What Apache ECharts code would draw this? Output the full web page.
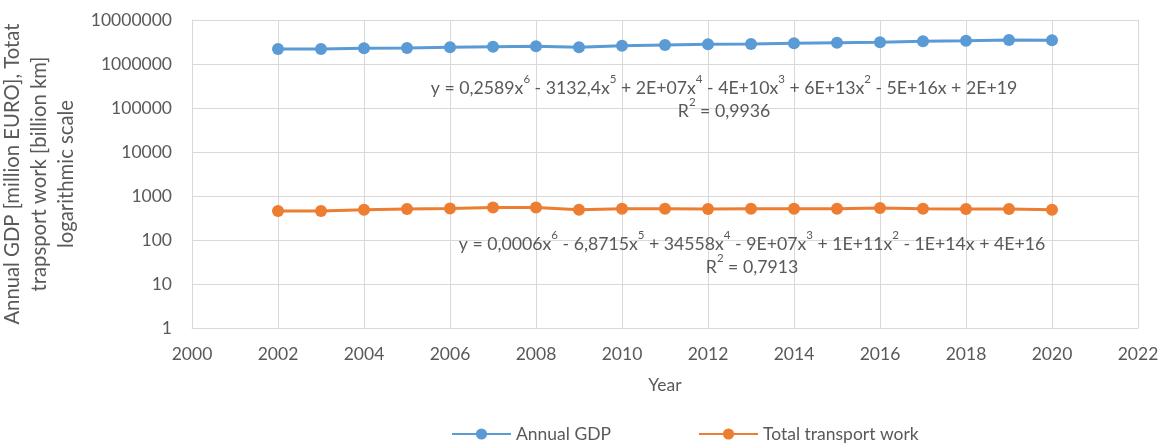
<!DOCTYPE html>
<html>
<head>
<meta charset="utf-8">
<script src="https://cdn.jsdelivr.net/npm/echarts@6/dist/echarts.min.js"></script>
<style>
html,body{margin:0;padding:0;background:#fff;}
#c{width:1165px;height:447px;}
</style>
</head>
<body>
<div id="c"></div>
<script>
const years = [2002,2003,2004,2005,2006,2007,2008,2009,2010,2011,2012,2013,2014,2015,2016,2017,2018,2019,2020];
const annualGDP = [2200000,2200000,2280000,2320000,2400000,2480000,2530000,2400000,2610000,2710000,2810000,2850000,2960000,3050000,3120000,3290000,3390000,3520000,3480000];
const transportWork = [455,458,486,504,520,548,548,486,512,512,504,512,512,512,531,512,508,508,486];
const yTicks = [1,10,100,1000,10000,100000,1000000,10000000];
const xTicks = [2000,2002,2004,2006,2008,2010,2012,2014,2016,2018,2020,2022];
const seriesNames = ['Annual GDP','Total transport work'];

const FONT = 'Lato';
const TXT = '#595959';
const GRID = '#d9d9d9';
const FS = 17.5;

const chart = echarts.init(document.getElementById('c'), null, {renderer:'canvas'});

function pairs(vals){ return years.map((y,i)=>[y, vals[i]]); }

const rich = {
  n: {fontFamily: FONT, fontSize: 17.7, color: TXT, lineHeight: 24, verticalAlign:'bottom'},
  s: {fontFamily: FONT, fontSize: 11.5, color: TXT, lineHeight: 24, verticalAlign:'top'}
};
function eq(parts){
  return parts.map(p => p[1] ? '{s|' + p[0] + '}' : '{n|' + p[0] + '}').join('');
}

const gdpEq = eq([['y = 0,2589x'],['6',1],[' - 3132,4x'],['5',1],[' + 2E+07x'],['4',1],[' - 4E+10x'],['3',1],[' + 6E+13x'],['2',1],[' - 5E+16x + 2E+19']]);
const gdpR2 = eq([['R'],['2',1],[' = 0,9936']]);
const trEq = eq([['y = 0,0006x'],['6',1],[' - 6,8715x'],['5',1],[' + 34558x'],['4',1],[' - 9E+07x'],['3',1],[' + 1E+11x'],['2',1],[' - 1E+14x + 4E+16']]);
const trR2 = eq([['R'],['2',1],[' = 0,7913']]);

function txt(str, cx, cy){
  return {
    type:'text', x: cx, y: cy, z: 10,
    style: {text: str, rich: rich, align:'center', verticalAlign:'middle', fill: TXT, font: '18px ' + FONT}
  };
}

chart.setOption({
  animation: false,
  backgroundColor: '#ffffff',
  textStyle: {fontFamily: FONT, color: TXT},
  grid: {left: 192, right: 27, top: 20, bottom: 119, containLabel: false, outerBoundsMode: 'none'},
  xAxis: {
    type: 'value', min: xTicks[0], max: xTicks[xTicks.length-1], interval: 2,
    name: 'Year', nameLocation: 'middle', nameGap: 48,
    nameTextStyle: {fontFamily: FONT, fontSize: FS, color: TXT},
    axisLine: {show: true, lineStyle: {color: GRID, width: 1}},
    axisTick: {show: false},
    splitLine: {show: true, lineStyle: {color: GRID, width: 1}},
    axisLabel: {fontFamily: FONT, fontSize: FS, color: TXT, margin: 17, formatter: v => String(v)}
  },
  yAxis: {
    type: 'log', logBase: 10, min: yTicks[0], max: yTicks[yTicks.length-1],
    name: 'Annual GDP [million EURO], Totat\ntrapsport work [billion km]\nlogarithmic scale',
    nameLocation: 'middle', nameRotate: 90, nameGap: 102,
    nameTextStyle: {fontFamily: FONT, fontSize: 20.3, color: TXT, lineHeight: 27, align: 'center'},
    axisLine: {show: true, lineStyle: {color: GRID, width: 1}},
    axisTick: {show: false},
    splitLine: {show: true, lineStyle: {color: GRID, width: 1}},
    axisLabel: {fontFamily: FONT, fontSize: FS, color: TXT, margin: 20, formatter: v => String(Math.round(v))}
  },
  legend: {
    left: 446, top: 420,
    itemWidth: 59, itemHeight: 14, itemGap: 87,
    textStyle: {fontFamily: FONT, fontSize: FS, color: TXT},
    data: seriesNames
  },
  series: [
    {
      name: seriesNames[0], type: 'line', data: pairs(annualGDP),
      symbol: 'circle', symbolSize: 12,
      lineStyle: {color: '#5b9bd5', width: 3},
      itemStyle: {color: '#5b9bd5'}
    },
    {
      name: seriesNames[1], type: 'line', data: pairs(transportWork),
      symbol: 'circle', symbolSize: 12,
      lineStyle: {color: '#ed7d31', width: 3},
      itemStyle: {color: '#ed7d31'}
    }
  ],
  graphic: [
    txt(gdpEq, 724, 85),
    txt(gdpR2, 724, 108),
    txt(trEq, 752, 241),
    txt(trR2, 752, 264)
  ]
});
</script>
</body>
</html>
